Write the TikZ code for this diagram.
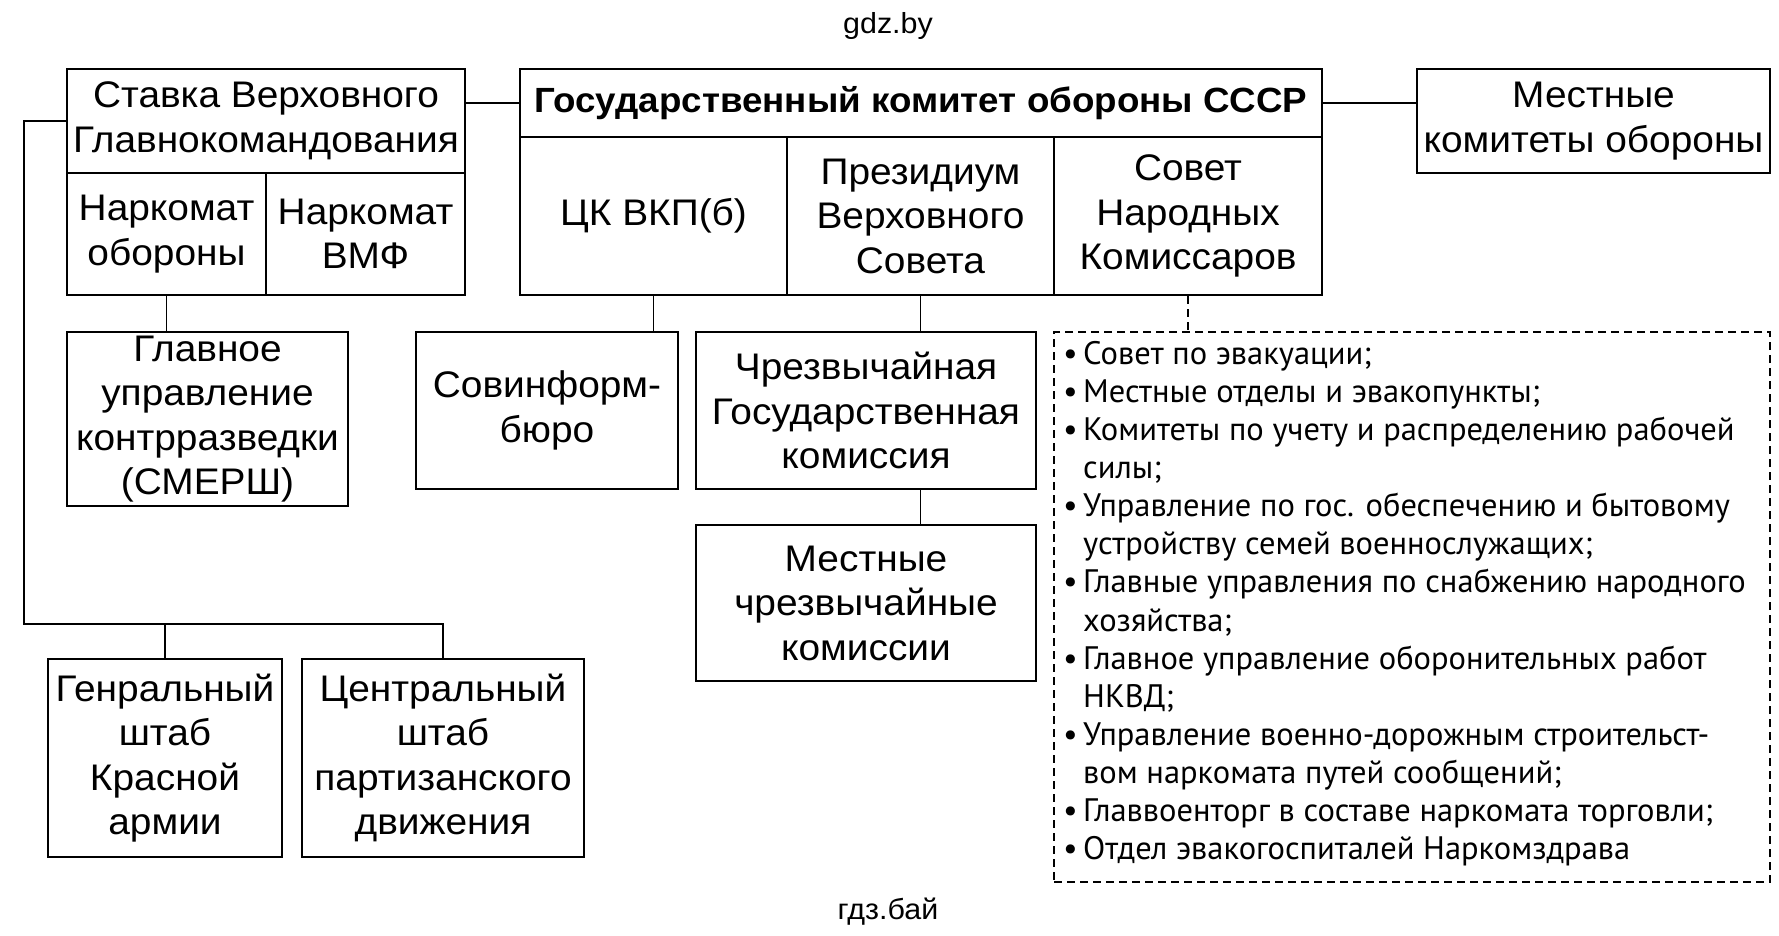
\documentclass[tikz,border=0pt]{standalone}
\usepackage{fontspec}
\setmainfont[FakeStretch=1.05]{Liberation Sans}
\newfontfamily\listfont{PT Sans}
\begin{document}
\begin{tikzpicture}[x=1pt,y=-1pt,
  every node/.style={inner sep=0pt},
  box/.style={draw, line width=2pt, align=center, font=\fontsize{37}{44.5}\selectfont},
  conn/.style={line width=1.7pt},
  dconn/.style={line width=1.6pt, dash pattern=on 8pt off 5pt},
  litem/.style={anchor=base west, font=\listfont\fontsize{32.5}{38}\selectfont},
  wm/.style={font=\fontsize{29}{36}\selectfont}]
\fill[white] (0,0) rectangle (1779,936);
\useasboundingbox (0,0) rectangle (1779,936);

\node[wm] (wtop) at (888,26) {gdz.by};
\node[wm] (wbot) at (888,912) {гдз.бай};

% Stavka block
\node[box, minimum width=398pt, minimum height=104pt] (stavka) at (266,121) {Ставка Верховного\\Главнокомандования};
\node[box, minimum width=199pt, minimum height=122pt] (narkobor) at (166.5,234) {Наркомат\\обороны};
\node[box, minimum width=199pt, minimum height=122pt] (narkvmf) at (365.5,234) {Наркомат\\ВМФ};

% GKO block
\node[box, minimum width=802pt, minimum height=68pt, font=\fontsize{35}{44}\selectfont\bfseries] (gko) at (921,103) {Государственный комитет обороны СССР};
\node[box, minimum width=267pt, minimum height=158pt] (ck) at (653.5,216) {ЦК ВКП(б)};
\node[box, minimum width=267pt, minimum height=158pt] (prez) at (920.5,216) {Президиум\\Верховного\\Совета};
\node[box, minimum width=268pt, minimum height=158pt] (sovnar) at (1188,216) {Совет\\Народных\\Комиссаров};

\node[box, minimum width=353pt, minimum height=104pt] (mestkom) at (1593.5,121) {Местные\\комитеты обороны};

% second row
\node[box, minimum width=281pt, minimum height=174pt] (gu) at (207.5,419) {Главное\\управление\\контрразведки\\(СМЕРШ)};
\node[box, minimum width=262pt, minimum height=157pt] (sovinf) at (547,410.5) {Совинформ-\\бюро};
\node[box, minimum width=340pt, minimum height=157pt] (chgk) at (866,410.5) {Чрезвычайная\\Государственная\\комиссия};
\node[box, minimum width=340pt, minimum height=156pt] (mchk) at (866,603) {Местные\\чрезвычайные\\комиссии};

% bottom row
\node[box, minimum width=234pt, minimum height=198pt] (genshtab) at (165,758) {Генральный\\штаб\\Красной\\армии};
\node[box, minimum width=282pt, minimum height=198pt] (tsshtab) at (443,758) {Центральный\\штаб\\партизанского\\движения};

% dashed list box
\node[draw, line width=1.6pt, dash pattern=on 8pt off 5pt, minimum width=716pt, minimum height=550pt] (list) at (1412,607) {};

\foreach \t [count=\i] in {
  {Совет по эвакуации;},
  {Местные отделы и эвакопункты;},
  {Комитеты по учету и распределению рабочей},
  {силы;},
  {Управление по гос. обеспечению и бытовому},
  {устройству семей военнослужащих;},
  {Главные управления по снабжению народного},
  {хозяйства;},
  {Главное управление оборонительных работ},
  {НКВД;},
  {Управление военно-дорожным строительст-},
  {вом наркомата путей сообщений;},
  {Главвоенторг в составе наркомата торговли;},
  {Отдел эвакогоспиталей Наркомздрава}}
  {\node[litem] (l\i) at (1083,{364+38.15*(\i-1)}) {\t};}
\foreach \i in {1,2,3,5,7,9,11,13,14}
  {\node[litem] (b\i) at (1063,{364+38.15*(\i-1)}) {•};}

% connectors
\draw[conn] (gko.west) -- (gko.west -| stavka.east);
\draw[conn] (gko.east) -- (gko.east -| mestkom.west);
\coordinate (lt) at (24,624);
\draw[conn] (stavka.west) -| (lt) -| (tsshtab.north);
\draw[conn] (genshtab.north) -- (genshtab.north |- lt);
\draw[conn] (narkobor.south) -- (narkobor.south |- gu.north);
\draw[conn] (ck.south) -- (ck.south |- sovinf.north);
\draw[conn] (prez.south) -- (prez.south |- chgk.north);
\draw[conn] (prez.south |- chgk.south) -- (prez.south |- mchk.north);
\draw[dconn] (sovnar.south) -- (sovnar.south |- list.north);
\end{tikzpicture}
\end{document}
